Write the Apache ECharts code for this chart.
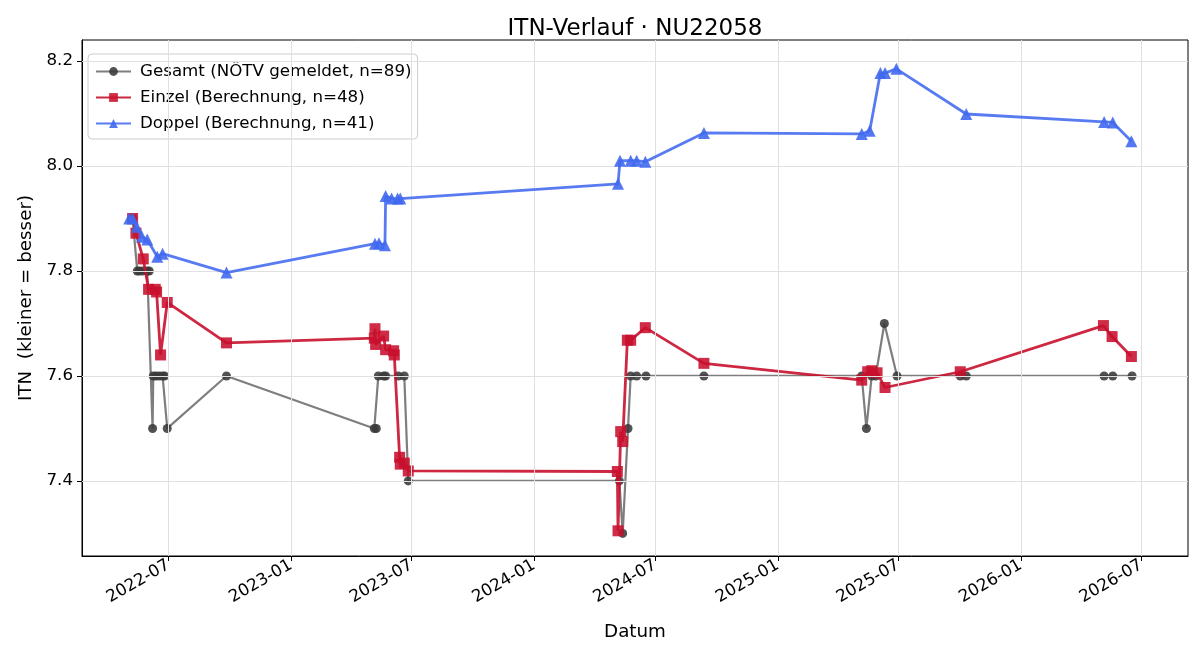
<!DOCTYPE html>
<html>
<head>
<meta charset="utf-8">
<script src="https://cdn.jsdelivr.net/npm/echarts@6/dist/echarts.min.js"></script>
<style>html,body{margin:0;padding:0;background:#fff}#c{width:1200px;height:660px}</style>
</head>
<body>
<div id="c"></div>
<script>
// ---- data ----
const gesamtDates = ['2022-05-08','2022-05-15','2022-05-18','2022-05-23','2022-05-30','2022-06-02','2022-06-07','2022-06-08','2022-06-12','2022-06-17','2022-06-22','2022-06-25','2022-06-29','2022-09-26',
  '2023-05-06','2023-05-09','2023-05-12','2023-05-20','2023-05-23','2023-06-11','2023-06-20','2023-06-26',
  '2024-05-08','2024-05-13','2024-05-21','2024-05-25','2024-06-03','2024-06-17','2024-09-12',
  '2025-05-07','2025-05-14','2025-05-22','2025-05-28','2025-06-10','2025-06-29','2025-10-02','2025-10-11',
  '2026-05-06','2026-05-19','2026-06-17'];
const gesamtValues = [7.9,7.8,7.8,7.8,7.8,7.8,7.5,7.6,7.6,7.6,7.6,7.6,7.5,7.6,
  7.5,7.5,7.6,7.6,7.6,7.6,7.6,7.4,
  7.4,7.3,7.5,7.6,7.6,7.6,7.6,
  7.6,7.5,7.6,7.6,7.7,7.6,7.6,7.6,
  7.6,7.6,7.6];

const einzelDates = ['2022-05-08','2022-05-13','2022-05-24','2022-06-01','2022-06-11','2022-06-13','2022-06-19','2022-06-29','2022-09-26',
  '2023-05-06','2023-05-07','2023-05-08','2023-05-20','2023-05-23','2023-06-04','2023-06-05','2023-06-13','2023-06-14','2023-06-20','2023-06-26',
  '2024-05-05','2024-05-06','2024-05-10','2024-05-13','2024-05-20','2024-05-25','2024-06-16','2024-09-12',
  '2025-05-07','2025-05-16','2025-05-22','2025-05-30','2025-06-11','2025-10-02',
  '2026-05-05','2026-05-18','2026-06-16'];
const einzelValues = [7.9,7.872,7.823,7.765,7.765,7.76,7.64,7.74,7.663,
  7.672,7.69,7.66,7.676,7.65,7.648,7.64,7.445,7.432,7.434,7.419,
  7.418,7.305,7.494,7.475,7.668,7.668,7.692,7.624,
  7.592,7.608,7.61,7.606,7.578,7.608,
  7.696,7.675,7.637];

const doppelDates = ['2022-05-03','2022-05-08','2022-05-14','2022-05-22','2022-05-30','2022-06-14','2022-06-22','2022-09-26',
  '2023-05-07','2023-05-13','2023-05-22','2023-05-23','2023-06-01','2023-06-10','2023-06-14',
  '2024-05-06','2024-05-09','2024-05-25','2024-06-03','2024-06-16','2024-09-12',
  '2025-05-07','2025-05-19','2025-06-04','2025-06-11','2025-06-28','2025-10-11',
  '2026-05-06','2026-05-19','2026-06-16'];
const doppelValues = [7.9,7.9,7.884,7.865,7.86,7.827,7.833,7.797,
  7.852,7.853,7.849,7.943,7.938,7.938,7.938,
  7.966,8.01,8.01,8.01,8.008,8.063,
  8.061,8.067,8.177,8.177,8.185,8.099,
  8.084,8.083,8.047];

const xTickLabels = ['2022-07','2023-01','2023-07','2024-01','2024-07','2025-01','2025-07','2026-01','2026-07'];
const yTickLabels = [7.4,7.6,7.8,8.0,8.2];

const seriesNames = ['Gesamt (NÖTV gemeldet, n=89)','Einzel (Berechnung, n=48)','Doppel (Berechnung, n=41)'];

// ---- build ----
const ts = s => Date.UTC(+s.slice(0, 4), +s.slice(5, 7) - 1, s.length > 7 ? +s.slice(8, 10) : 1);
const zip = (d, v) => d.map((x, i) => [ts(x), v[i]]);
const xTickVals = xTickLabels.map(ts);
const FONT = 'DejaVu Sans';
const fmtDate = v => { const d = new Date(v); return d.getUTCFullYear() + '-' + String(d.getUTCMonth() + 1).padStart(2, '0'); };

const chart = echarts.init(document.getElementById('c'));
chart.setOption({
  animation: false,
  textStyle: {fontFamily: FONT},
  title: {
    text: 'ITN-Verlauf · NU22058',
    left: 630, top: 13, textAlign: 'center',
    textStyle: {fontFamily: FONT, fontSize: 23, fontWeight: 'normal', color: '#000'}
  },
  grid: {left: 82, right: 12, top: 40, bottom: 104, show: true, borderColor: '#000', borderWidth: 1, backgroundColor: 'transparent'},
  legend: {
    data: seriesNames,
    orient: 'vertical', left: 88, top: 54,
    itemWidth: 35, itemHeight: 11, itemGap: 9,
    padding: [9, 6, 7, 7],
    backgroundColor: 'rgba(255,255,255,0.85)', borderColor: '#ccc', borderWidth: 1, borderRadius: 4,
    textStyle: {fontFamily: FONT, fontSize: 16.7, color: '#000', padding: [0, 0, 0, 4]}
  },
  xAxis: {
    type: 'value',
    min: ts('2022-02-21'),
    max: ts('2026-09-09'),
    name: 'Datum', nameLocation: 'middle', nameGap: 67,
    nameTextStyle: {fontFamily: FONT, fontSize: 18.3, color: '#000'},
    axisLine: {show: true, lineStyle: {color: '#000'}},
    axisTick: {show: true, customValues: xTickVals, length: 5, lineStyle: {color: '#000'}},
    axisLabel: {
      customValues: xTickVals, rotate: 30, fontFamily: FONT, fontSize: 16.7, color: '#000', margin: 8,
      formatter: fmtDate
    },
    splitLine: {show: false}
  },
  yAxis: {
    type: 'value', min: 7.257, max: 8.24,
    name: 'ITN  (kleiner = besser)', nameLocation: 'middle', nameGap: 46,
    nameTextStyle: {fontFamily: FONT, fontSize: 18.3, color: '#000'},
    axisLine: {show: true, lineStyle: {color: '#000'}},
    axisTick: {show: true, customValues: yTickLabels, length: 5, lineStyle: {color: '#000'}},
    axisLabel: {customValues: yTickLabels, fontFamily: FONT, fontSize: 16.7, color: '#000', margin: 9, formatter: v => v.toFixed(1)},
    splitLine: {show: false}
  },
  series: [
    {
      name: 'grid', type: 'line', data: [], z: 0, silent: true,
      markLine: {
        silent: true, symbol: 'none', animation: false,
        label: {show: false},
        lineStyle: {color: '#e0e0e0', width: 1, type: 'solid'},
        data: xTickVals.map(v => ({xAxis: v})).concat(yTickLabels.map(v => ({yAxis: v})))
      }
    },
    {
      name: seriesNames[0], type: 'line', data: zip(gesamtDates, gesamtValues), z: 3,
      symbol: 'circle', symbolSize: 9, showAllSymbol: true,
      lineStyle: {color: 'rgba(90,90,90,0.78)', width: 2.2},
      itemStyle: {color: 'rgba(58,58,58,0.88)'}
    },
    {
      name: seriesNames[1], type: 'line', data: zip(einzelDates, einzelValues), z: 4,
      symbol: 'rect', symbolSize: 11, showAllSymbol: true,
      lineStyle: {color: 'rgba(200,16,46,0.9)', width: 2.8},
      itemStyle: {color: 'rgba(200,16,46,0.88)'}
    },
    {
      name: seriesNames[2], type: 'line', data: zip(doppelDates, doppelValues), z: 5,
      symbol: 'triangle', symbolSize: 12, showAllSymbol: true,
      lineStyle: {color: 'rgba(65,105,240,0.88)', width: 2.8},
      itemStyle: {color: 'rgba(65,105,240,0.9)'}
    }
  ]
});
</script>
</body>
</html>
